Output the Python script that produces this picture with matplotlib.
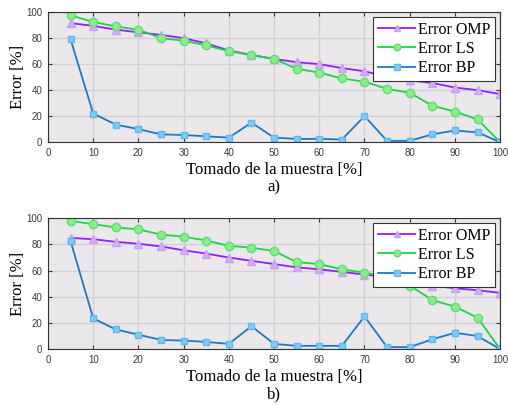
import matplotlib.pyplot as plt
import numpy as np

x = np.arange(5, 101, 5)

# panel a)
omp_a = [91.5, 89.5, 86.5, 84.5, 82.5, 80, 76, 70.5, 67, 64, 61.5, 60, 57, 54.5, 50.5, 47.5, 45.5, 42, 40, 37]
ls_a = [97.5, 92.5, 89, 86.5, 80, 78, 74.5, 70, 67, 64, 56.5, 53.5, 49, 46.5, 41, 38, 28, 23.5, 17.5, 0]
bp_a = [79, 22, 13.5, 10, 6, 5.5, 4.5, 3.5, 15, 3.5, 2.5, 2.5, 2, 20, 1, 1, 6, 9, 7.5, 0]

# panel b)
omp_b = [85, 84, 82, 80.5, 78.5, 75.5, 73, 70, 67.5, 65, 62.5, 61, 59, 57, 55, 53, 48.5, 46.5, 45, 43]
ls_b = [98, 95.5, 93, 91.5, 87.5, 86, 83, 79, 77.5, 75, 66.5, 65, 61, 58.5, 55, 48.5, 37.5, 32.5, 24, 0]
bp_b = [82.5, 23.5, 15, 11, 7, 6.5, 5.5, 4, 17.5, 4, 2.5, 2.5, 2.5, 25, 1.5, 1.5, 7.5, 12.5, 10, 0]

panels = [(omp_a, ls_a, bp_a, 'a)'), (omp_b, ls_b, bp_b, 'b)')]

serif = 'Liberation Serif'

fig = plt.figure(figsize=(5.08, 4.05), dpi=100)
rects = [[0.0945, 0.649, 0.89, 0.321], [0.0945, 0.138, 0.89, 0.323]]

for rect, (omp, ls, bp, tag) in zip(rects, panels):
    ax = fig.add_axes(rect)
    ax.set_facecolor('#ebe8ec')
    ax.grid(True, color='#d3d1d5', linewidth=1.0)
    ax.set_axisbelow(True)
    ax.plot(x, omp, color='#8f1fff', lw=1.3, marker='^', ms=6,
            mfc='#d3aef5', mec='#c9a0f0', label='Error OMP')
    ax.plot(x, ls, color='#1ed24a', lw=1.3, marker='o', ms=6,
            mfc='#8deb8d', mec='#5ee070', label='Error LS')
    ax.plot(x, bp, color='#1f78c0', lw=1.3, marker='s', ms=5,
            mfc='#7fcbf7', mec='#5fb8ee', label='Error BP')
    ax.set_xlim(0, 100)
    ax.set_ylim(0, 100)
    ax.set_xticks(np.arange(0, 101, 10))
    ax.set_yticks(np.arange(0, 101, 20))
    ax.tick_params(direction='in', top=True, right=True, length=3, width=0.8,
                   colors='#333333', labelsize=7, pad=4)
    for lab in ax.get_xticklabels() + ax.get_yticklabels():
        lab.set_family('Liberation Sans')
        lab.set_color('#3a3a3a')
    for s in ax.spines.values():
        s.set_color('#333333')
        s.set_linewidth(0.8)
    ax.set_ylabel('Error [%]', fontsize=12, family=serif, labelpad=0)
    ax.set_xlabel('Tomado de la muestra [%]\n' + tag, fontsize=12, family=serif,
                  labelpad=3, linespacing=1.1)
    leg = ax.legend(loc='upper right', prop={'family': serif, 'size': 11.5},
                    fancybox=False, edgecolor='#333333', framealpha=1,
                    handlelength=2.3, handletextpad=0.2, borderpad=0.3,
                    labelspacing=0.2, borderaxespad=0.3, markerscale=0.8)
    leg.get_frame().set_linewidth(0.8)

fig.savefig('out.png', dpi=100)
